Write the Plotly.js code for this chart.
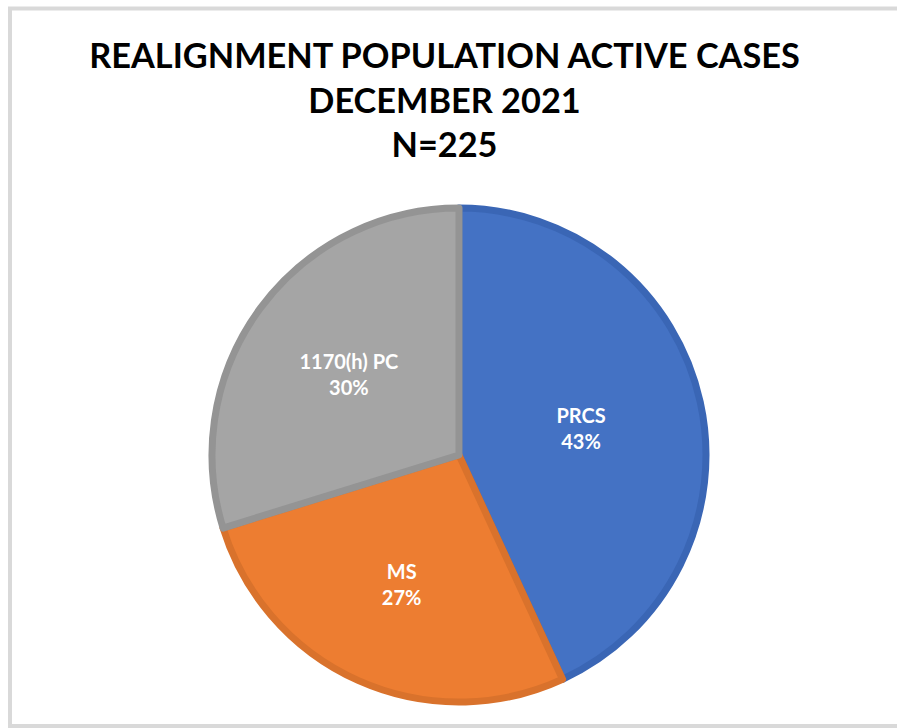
<!DOCTYPE html>
<html>
<head>
<meta charset="utf-8">
<script src="https://cdn.plot.ly/plotly-3.0.1.min.js"></script>
<style>html,body{margin:0;padding:0;background:#fff;}#chart{width:897px;height:728px;}</style>
</head>
<body>
<div id="chart"></div>
<script>
const categories = ["PRCS", "MS", "1170(h) PC"];
const cases = [97, 61, 67];
const sliceColors = ["#4472C4", "#ED7D31", "#A5A5A5"];
const borderColors = ["#3A66B5", "#D9722C", "#949494"];
const titleLines = ["REALIGNMENT POPULATION ACTIVE CASES", "DECEMBER 2021", "N=225"];

const W = 897, H = 728;
const cx = 459, cy = 455, r = 247;

const trace = {
  type: "pie",
  labels: categories,
  values: cases,
  sort: false,
  direction: "clockwise",
  rotation: 0,
  marker: { colors: sliceColors, line: { color: borderColors, width: 7 } },
  textinfo: "label+percent",
  textposition: "inside",
  insidetextorientation: "horizontal",
  texttemplate: "<b>%{label}</b><br><b>%{percent:.0%}</b>",
  textfont: { family: "Lato, 'Open Sans', sans-serif", size: 20, color: "#ffffff" },
  hoverinfo: "label+value+percent",
  domain: { x: [(cx - r) / W, (cx + r) / W], y: [(H - cy - r) / H, (H - cy + r) / H] },
  showlegend: false
};

const layout = {
  width: W, height: H,
  margin: { l: 0, r: 0, t: 0, b: 0 },
  paper_bgcolor: "#ffffff",
  showlegend: false,
  title: {
    text: "<b>" + titleLines.join("<br>") + "</b>",
    x: 444.5 / W, xanchor: "center",
    y: 1 - 68 / H, yanchor: "top",
    yref: "container",
    font: { family: "Lato, 'Open Sans', sans-serif", size: 34.3, color: "#000000" }
  },
  shapes: [{
    type: "rect", xref: "paper", yref: "paper",
    x0: 10 / W, x1: 910 / W, y0: 1 - 726 / H, y1: 1 - 8.5 / H,
    line: { color: "#d9d9d9", width: 4 }
  }]
};

Plotly.newPlot("chart", [trace], layout, { displayModeBar: false, staticPlot: true });
</script>
</body>
</html>
